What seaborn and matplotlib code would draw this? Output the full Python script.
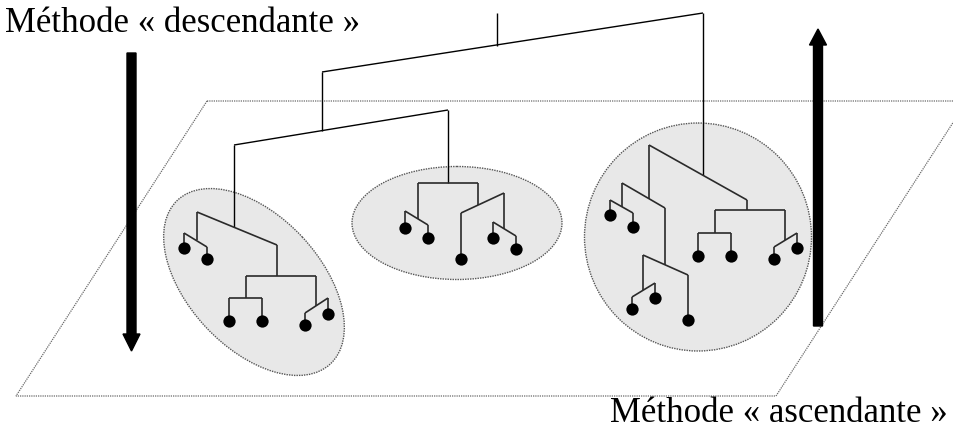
import matplotlib
matplotlib.use("Agg")
import matplotlib.pyplot as plt
import seaborn as sns
from matplotlib.patches import Ellipse, Polygon, FancyArrow

sns.set_theme(style="white")
plt.rcParams['font.family'] = ['Liberation Serif', 'DejaVu Serif']

# ---- labels ----
label_top = "Méthode « descendante »"
label_bottom = "Méthode « ascendante »"

# ---- plane (parallelogram) corners ----
plane_x = [207, 967, 776, 16]
plane_y = [101, 101, 396, 396]

# ---- cluster ellipses: centre x, centre y, width, height, angle ----
cluster_cx = [254, 457, 698]
cluster_cy = [282, 223, 237]
cluster_w = [224, 210, 227]
cluster_h = [132, 113, 228]
cluster_angle = [47, 0, 0]

# ---- upper dendrogram (links above the clusters) ----
top_links = [
    [(497, 13), (497, 46)],
    [(322, 72), (703, 13)],
    [(322, 72), (322, 131)],
    [(234, 145), (448, 110)],
    [(234, 145), (234, 227)],
    [(448, 110), (448, 183)],
    [(703, 13), (703, 175)],
]

# ---- links inside cluster 1 ----
c1_links = [
    [(197, 212), (277, 245)],
    [(197, 212), (197, 240)],
    [(184, 233), (207, 247)],
    [(184, 233), (184, 248)],
    [(207, 247), (207, 259)],
    [(277, 245), (277, 276)],
    [(246, 276), (316, 276)],
    [(246, 276), (246, 298)],
    [(229, 298), (262, 298)],
    [(229, 298), (229, 321)],
    [(262, 298), (262, 321)],
    [(316, 276), (316, 306)],
    [(305, 313), (328, 298)],
    [(305, 313), (305, 325)],
    [(328, 298), (328, 314)],
]

# ---- links inside cluster 2 ----
c2_links = [
    [(418, 183), (478, 183)],
    [(418, 183), (418, 219)],
    [(405, 211), (428, 225)],
    [(405, 211), (405, 228)],
    [(428, 225), (428, 238)],
    [(478, 183), (478, 205)],
    [(461, 213), (504, 193)],
    [(461, 213), (461, 259)],
    [(504, 193), (504, 229)],
    [(493, 222), (516, 236)],
    [(493, 222), (493, 238)],
    [(516, 236), (516, 249)],
]

# ---- links inside cluster 3 ----
c3_links = [
    [(649, 145), (747, 200)],
    [(747, 200), (747, 210)],
    [(715, 210), (785, 210)],
    [(715, 210), (715, 233)],
    [(698, 233), (731, 233)],
    [(698, 233), (698, 256)],
    [(731, 233), (731, 256)],
    [(785, 210), (785, 240)],
    [(774, 247), (797, 233)],
    [(774, 247), (774, 259)],
    [(797, 233), (797, 248)],
    [(649, 145), (649, 199)],
    [(622, 183), (665, 208)],
    [(622, 183), (622, 207)],
    [(610, 200), (633, 213)],
    [(610, 200), (610, 215)],
    [(633, 213), (633, 227)],
    [(665, 208), (665, 265)],
    [(643, 255), (688, 275)],
    [(643, 255), (643, 290)],
    [(632, 297), (655, 283)],
    [(632, 297), (632, 309)],
    [(655, 283), (655, 298)],
    [(688, 275), (688, 320)],
]

# ---- leaves ----
leaf_x = [184, 207, 229, 262, 305, 328,
          405, 428, 461, 493, 516,
          610, 633, 632, 655, 688, 698, 731, 774, 797]
leaf_y = [248, 259, 321, 321, 325, 314,
          228, 238, 259, 238, 249,
          215, 227, 309, 298, 320, 256, 256, 259, 248]

# ---- arrows: x, y start, y end ----
arrow_down = (131.5, 53, 351)
arrow_up = (818, 326, 29)

fig = plt.figure(figsize=(9.54, 4.32), dpi=100)
ax = fig.add_axes([0, 0, 1, 1])
ax.set_xlim(0, 954)
ax.set_ylim(432, 0)
ax.axis('off')

# plane
ax.add_patch(Polygon(list(zip(plane_x, plane_y)), closed=True, fill=False,
                     edgecolor='#6a6a6a', linewidth=0.9, linestyle=(0, (1, 0.8)),
                     zorder=1))

# clusters
for cx, cy, w, h, a in zip(cluster_cx, cluster_cy, cluster_w, cluster_h, cluster_angle):
    ax.add_patch(Ellipse((cx, cy), w, h, angle=a, facecolor='#e8e8e8',
                         edgecolor='#555555', linewidth=1.0,
                         linestyle=(0, (1, 0.8)), zorder=2))

# dendrogram links
for seg in top_links:
    xs, ys = zip(*seg)
    ax.plot(xs, ys, color='black', linewidth=1.0, zorder=3,
            solid_capstyle='butt')
for links in (c1_links, c2_links, c3_links):
    for seg in links:
        xs, ys = zip(*seg)
        ax.plot(xs, ys, color='#2a2a2a', linewidth=1.2, zorder=3,
                solid_capstyle='butt')

# leaves
sns.scatterplot(x=leaf_x, y=leaf_y, ax=ax, color='black', s=78,
                edgecolor='black', linewidth=0, zorder=4, legend=False)

# arrows
x, y0, y1 = arrow_down
ax.add_patch(FancyArrow(x, y0, 0, y1 - y0, width=9, head_width=17,
                        head_length=17, length_includes_head=True,
                        color='black', zorder=5))
x, y0, y1 = arrow_up
ax.add_patch(FancyArrow(x, y0, 0, y1 - y0, width=9, head_width=17,
                        head_length=16, length_includes_head=True,
                        color='black', zorder=5))

# labels
ax.text(5, 32, label_top, fontsize=25, color='black', ha='left', va='baseline')
ax.text(948, 430, label_bottom, fontsize=25, color='black', ha='right', va='bottom')

fig.savefig('out.png', dpi=100)
